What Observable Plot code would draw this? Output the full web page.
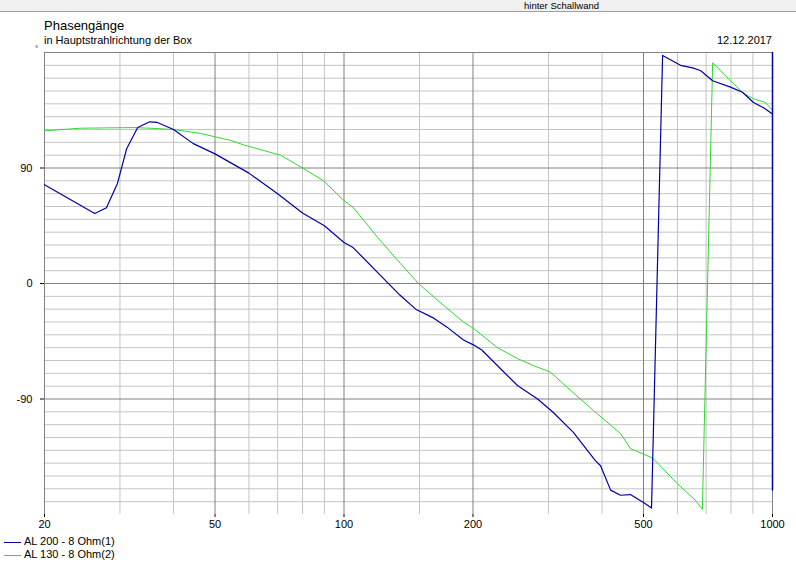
<!DOCTYPE html>
<html><head><meta charset="utf-8">
<script src="https://cdn.jsdelivr.net/npm/d3@7"></script>
<script src="https://cdn.jsdelivr.net/npm/@observablehq/plot@0.6"></script>
<style>
body{margin:0;background:#fff;font-family:"Liberation Sans",Arial,sans-serif;color:#000;}
#wrap{position:relative;width:796px;height:566px;overflow:hidden;background:#fff;}
#band{position:absolute;left:0;top:0;width:796px;height:11px;background:#f0f0f0;border-bottom:1px solid #a0a0a0;}
#band span{position:absolute;left:524px;top:1px;font-size:9.5px;white-space:nowrap;line-height:1;}
.t{position:absolute;white-space:nowrap;line-height:1;}
#chart{position:absolute;left:0;top:0;}
.lg{position:absolute;left:4px;width:17px;height:0;border-top:1px solid;}
</style></head><body>
<div id="wrap">
  <div id="band"><span>hinter Schallwand</span></div>
  <div class="t" id="title" style="left:44px;top:19px;font-size:13px;">Phasengänge</div>
  <div class="t" id="sub" style="left:44px;top:35px;font-size:11px;">in Hauptstrahlrichtung der Box</div>
  <div class="t" id="date" style="right:24px;top:35px;font-size:11px;">12.12.2017</div>
  <div class="t" style="left:35px;top:45px;font-size:8px;">°</div>
  <div id="chart"></div>
  <div class="lg" style="top:542px;border-color:#0000a8;"></div>
  <div class="t" style="left:24px;top:536px;font-size:11px;">AL 200 - 8 Ohm(1)</div>
  <div class="lg" style="top:555px;border-color:#30d830;"></div>
  <div class="t" style="left:24px;top:549px;font-size:11px;">AL 130 - 8 Ohm(2)</div>
</div>
<script>
// Series 1: AL 200 - 8 Ohm(1)
const blueFreq  = [20, 26.2, 27.9, 29.6, 31.1, 33, 35.2, 36.7, 40, 44.5, 50, 60, 70, 80, 90, 100, 105, 135, 147, 162, 174, 190, 201, 210, 254, 283, 308, 343, 386, 397, 419, 442, 466, 500, 522, 554, 610, 651, 679, 725, 798, 851, 903, 953, 1000];
const bluePhase = [77, 54.5, 59, 78, 105, 121.5, 126, 125.5, 120, 109, 101, 86, 70, 55, 45, 32, 28, -9, -20, -27, -34, -44, -48, -52, -79.5, -90, -100.5, -116, -138, -142, -161, -165, -164.5, -170.7, -175, 177.7, 170, 168, 166, 158, 153, 149, 141, 137, 132];
// blue trace along the right edge at 1000 Hz
const blueEdgeFreq  = [1000, 1000];
const blueEdgePhase = [180, -161];
// Series 2: AL 130 - 8 Ohm(2)
const greenFreq  = [20, 24.3, 32.3, 35.2, 40, 46.2, 54.4, 58.3, 71.1, 80.4, 89.6, 99.7, 105.2, 119.7, 135.4, 149.2, 170.7, 190, 200.6, 228, 254, 277, 303, 332, 382, 442, 466, 525, 600, 661, 686, 725, 798, 856, 903, 963, 1000];
const greenPhase = [119, 121, 121.5, 121, 120, 117, 111.5, 108, 100, 89.6, 80, 65, 59, 36, 15.6, 0, -17, -30, -35, -50, -58.5, -64, -69, -81, -99, -117, -128.6, -136, -156, -169, -176, 172, 158, 148, 144, 141, 135];

const xMajor = [20, 50, 100, 200, 500, 1000];
const xMinor = [30, 40, 60, 70, 80, 90, 150, 300, 400, 600, 700, 800, 900];
const yMajor = [180, 90, 0, -90];
const yTicks = [90, 0, -90];
const yMinor = [170,160,150,140,130,120,110,100,80,70,60,50,40,30,20,10,-10,-20,-30,-40,-50,-60,-70,-80,-100,-110,-120,-130,-140,-150,-160,-170];

const blue = blueFreq.map((f, i) => ({f, p: bluePhase[i]}));
const blueEdge = blueEdgeFreq.map((f, i) => ({f, p: blueEdgePhase[i]}));
const green = greenFreq.map((f, i) => ({f, p: greenPhase[i]}));

const chart = Plot.plot({
  width: 796,
  height: 566,
  marginLeft: 44,
  marginRight: 24,
  marginTop: 52,
  marginBottom: 52,
  x: {type: "log", domain: [20, 1000]},
  y: {domain: [-180, 180]},
  style: {fontFamily: "'Liberation Sans', Arial, sans-serif", fontSize: "11px", background: "transparent", color: "#000"},
  marks: [
    Plot.ruleY(yMinor, {stroke: "#c4c4c4", strokeWidth: 1}),
    Plot.ruleX(xMinor, {stroke: "#c4c4c4", strokeWidth: 1}),
    Plot.ruleY(yMajor, {stroke: "#808080", strokeWidth: 1}),
    Plot.ruleX(xMajor, {stroke: "#808080", strokeWidth: 1}),
    Plot.axisX({ticks: xMajor, tickSize: 3, tickPadding: 3, tickFormat: d => String(d), stroke: "#000", fontSize: 11, label: null}),
    Plot.axisY({ticks: yTicks, tickSize: 4, tickPadding: 8, tickFormat: d => String(d), stroke: "#000", fontSize: 11, label: null}),
    Plot.line(green, {x: "f", y: "p", stroke: "#30d830", strokeWidth: 1}),
    Plot.line(blue, {x: "f", y: "p", stroke: "#0000a8", strokeWidth: 1.2}),
    Plot.line(blueEdge, {x: "f", y: "p", stroke: "#0000a8", strokeWidth: 1.5})
  ]
});
document.getElementById("chart").appendChild(chart);
</script>
</body></html>
